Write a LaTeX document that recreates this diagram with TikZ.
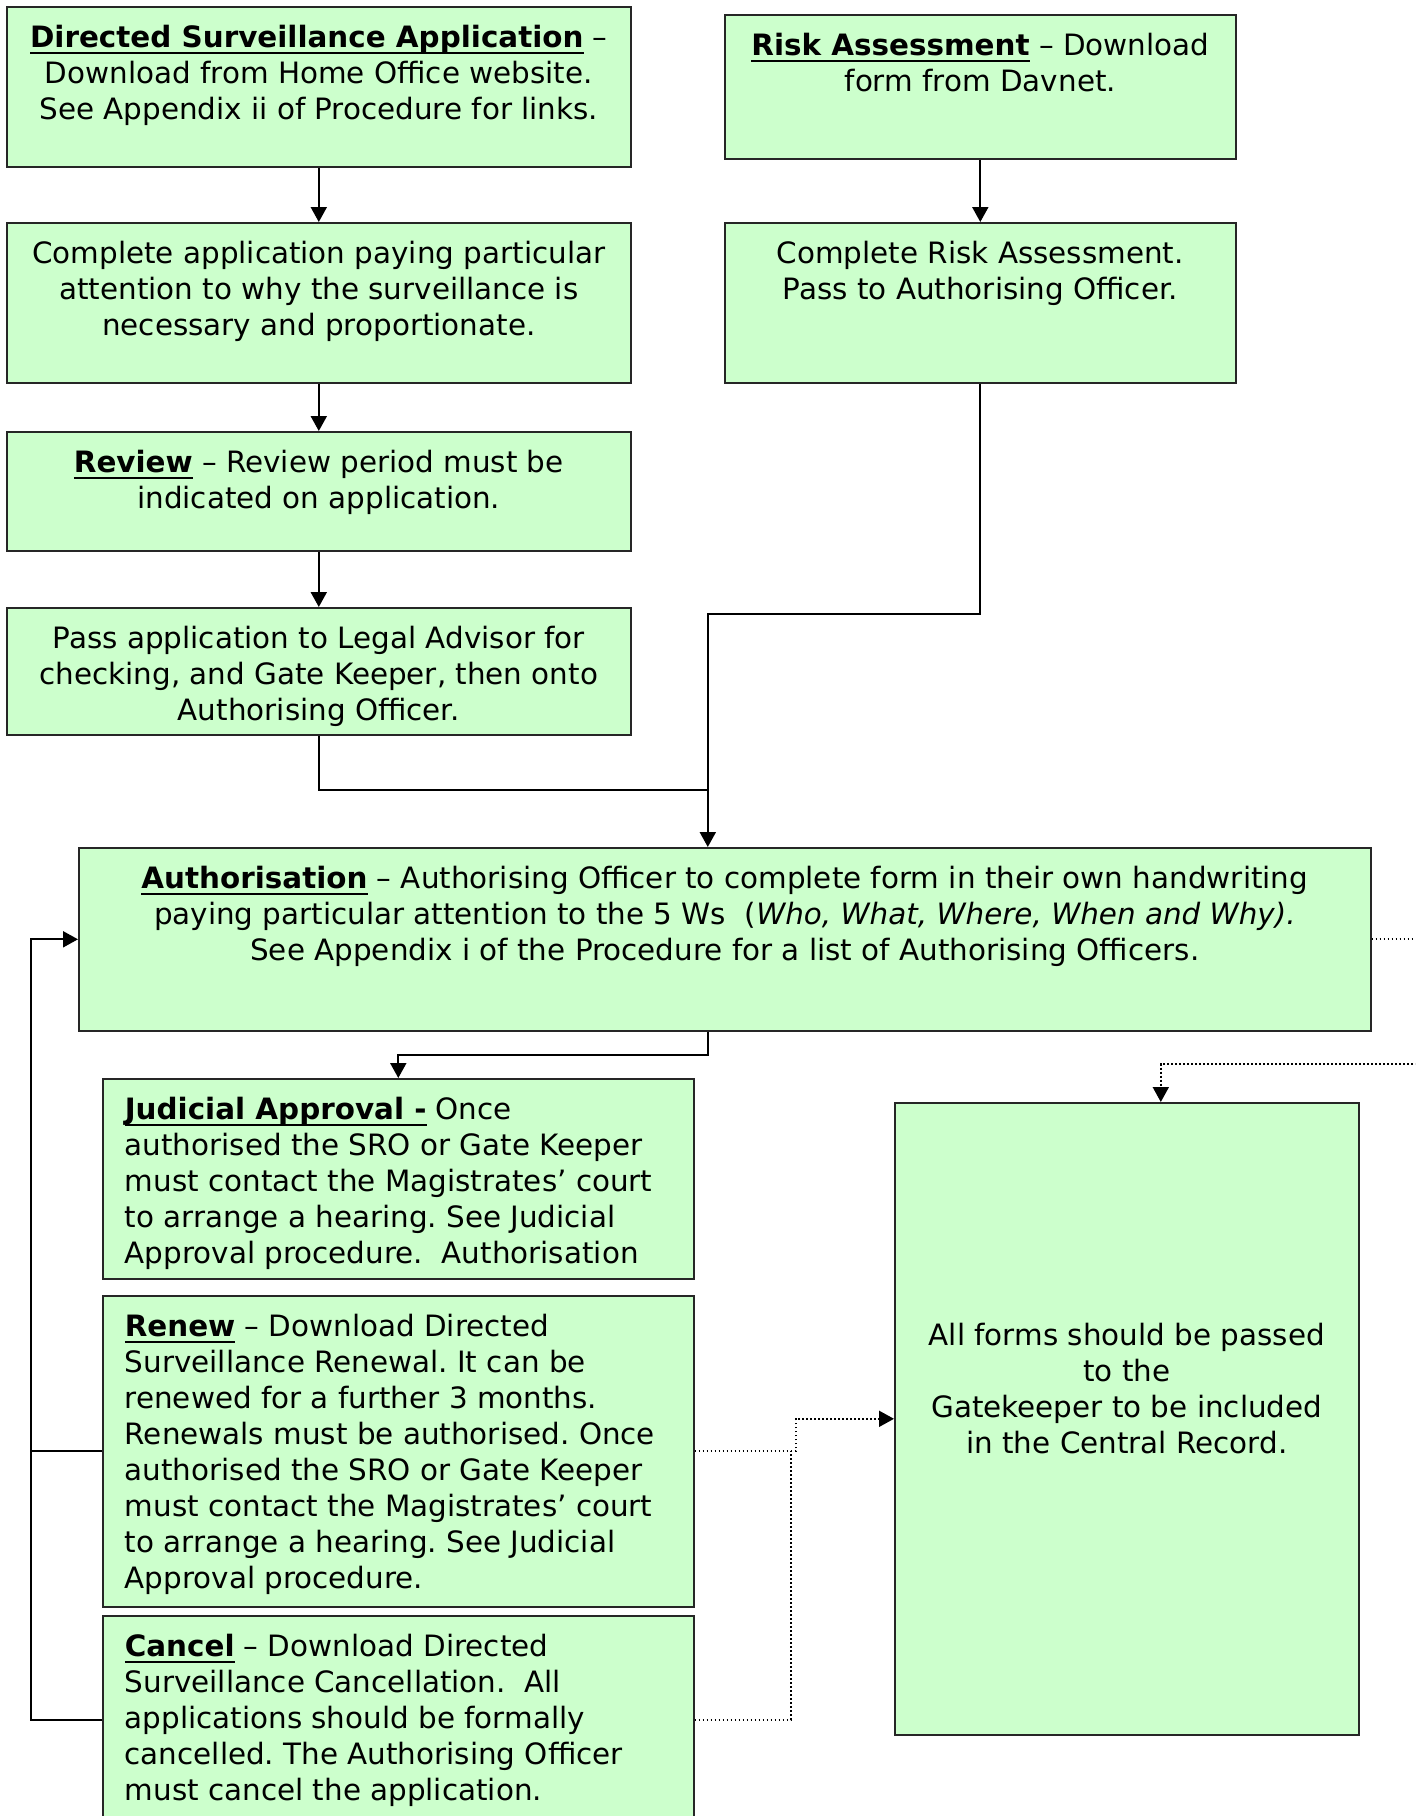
\documentclass[tikz,border=0pt]{standalone}
\usepackage{fontspec}
\setmainfont{DejaVu Sans}
\usetikzlibrary{arrows.meta}
\definecolor{formgreen}{HTML}{CCFFCC}
\newsavebox{\headbox}
\newcommand{\ulhead}[1]{\sbox{\headbox}{\textbf{#1}}\rlap{\rule[-3.4pt]{\wd\headbox}{1.1pt}}\usebox{\headbox}}
\frenchspacing

\begin{document}
\begin{tikzpicture}[
    x=0.5pt, y=-0.5pt,
    >={Triangle[width=8pt,length=7.5pt]},
    stepbox/.style={
        rectangle, draw=black!85, line width=0.8pt, fill=formgreen,
        anchor=north west, inner xsep=11pt, inner ysep=7.7pt,
        font=\fontsize{14.7}{18}\selectfont
    },
    route/.style={line width=1pt, black},
    droute/.style={line width=0.9pt, black, dash pattern=on 0.9pt off 1.1pt},
    arr/.style={route, ->},
    darr/.style={droute, ->},
]
\path[use as bounding box] (0,0) rectangle (1415,1816);
\clip (0,0) rectangle (1415,1816);

% Left column: application
\node[stepbox] (dsapp) at (6,6) {\parbox[c][64.6pt][t]{290pt}{\centering\strut
    \ulhead{Directed Surveillance Application} –\\
    Download from Home Office website.\\
    See Appendix ii of Procedure for links.}};
\node[stepbox] (complete) at (6,222) {\parbox[c][64.6pt][t]{290pt}{\centering\strut
    Complete application paying particular\\
    attention to why the surveillance is\\
    necessary and proportionate.}};
\node[stepbox] (review) at (6,431) {\parbox[c][44.1pt][t]{290pt}{\centering\strut
    \ulhead{Review} – Review period must be\\
    indicated on application.}};
\node[stepbox] (pass) at (6,607) {\parbox[c][48.1pt][t]{290pt}{\centering\strut
    Pass application to Legal Advisor for\\
    checking, and Gate Keeper, then onto\\
    Authorising Officer.}};

% Right column: risk assessment
\node[stepbox] (risk) at (724,14) {\parbox[c][56.6pt][t]{233.5pt}{\centering\strut
    \ulhead{Risk Assessment} – Download\\
    form from Davnet.}};
\node[stepbox] (riskdo) at (724,222) {\parbox[c][64.6pt][t]{233.5pt}{\centering\strut
    Complete Risk Assessment.\\
    Pass to Authorising Officer.}};

% Authorisation
\node[stepbox] (auth) at (78,847) {\parbox[c][76.1pt][t]{624pt}{\centering\strut
    \ulhead{Authorisation} – Authorising Officer to complete form in their own handwriting\\
    paying particular attention to the 5 Ws~~(\textit{Who, What, Where, When and Why).}\\
    See Appendix i of the Procedure for a list of Authorising Officers.}};

% After authorisation
\node[stepbox] (judicial) at (102,1078) {\parbox[c][84.6pt][t]{273.5pt}{\raggedright\strut
    \ulhead{Judicial Approval -} Once\\
    authorised the SRO or Gate Keeper\\
    must contact the Magistrates’ court\\
    to arrange a hearing. See Judicial\\
    Approval procedure.~~Authorisation}};
\node[stepbox] (renew) at (102,1295) {\parbox[c][140.1pt][t]{273.5pt}{\raggedright\strut
    \ulhead{Renew} – Download Directed\\
    Surveillance Renewal. It can be\\
    renewed for a further 3 months.\\
    Renewals must be authorised. Once\\
    authorised the SRO or Gate Keeper\\
    must contact the Magistrates’ court\\
    to arrange a hearing. See Judicial\\
    Approval procedure.}};
\node[stepbox] (cancel) at (102,1615) {\parbox[c][88.6pt][t]{273.5pt}{\raggedright\strut
    \ulhead{Cancel} – Download Directed\\
    Surveillance Cancellation.~~All\\
    applications should be formally\\
    cancelled. The Authorising Officer\\
    must cancel the application.}};
\node[stepbox] (gate) at (894,1102) {\parbox[c][300.6pt][t]{210pt}{\centering
    \vspace*{101pt}\strut
    All forms should be passed\\
    to the\\
    Gatekeeper to be included\\
    in the Central Record.}};

% Routing lanes
\coordinate (authin) at ([xshift=-8.5pt]auth.north);
\coordinate (authout) at ([xshift=-8.5pt]auth.south);
\coordinate (risklane) at (0,614);
\coordinate (passlane) at (0,790);
\coordinate (judlane) at (0,1055);
\coordinate (bus) at (31,0);
\coordinate (offpage) at (1450,0);
\coordinate (gklane) at (0,1064);
\coordinate (gkin) at ([xshift=17pt]gate.north);

% Application chain
\draw[arr] (dsapp) -- (complete);
\draw[arr] (complete) -- (review);
\draw[arr] (review) -- (pass);
\draw[arr] (risk) -- (riskdo);

% Both chains into authorisation
\draw[arr] (riskdo.south) -- (riskdo.south |- risklane) -| (authin);
\draw[route] (pass.south) |- (authin |- passlane);

% Authorisation to judicial approval
\draw[arr] (authout) -- (authout |- judlane) -| (judicial.north);

% Renew / cancel back to authorisation
\draw[arr] (cancel.west) -- (cancel.west -| bus) |- (auth.west);
\draw[route] (renew.west) -- (renew.west -| bus);

% Everything to the gatekeeper
\draw[darr] (auth.east) -- (auth.east -| offpage) -- (offpage |- gklane) -| (gkin);
\draw[darr] (renew.east) -- ([xshift=50.5pt]renew.east) |- (gate.west);
\draw[droute] (cancel.east) -| ([xshift=48pt]renew.east);

\end{tikzpicture}
\end{document}
